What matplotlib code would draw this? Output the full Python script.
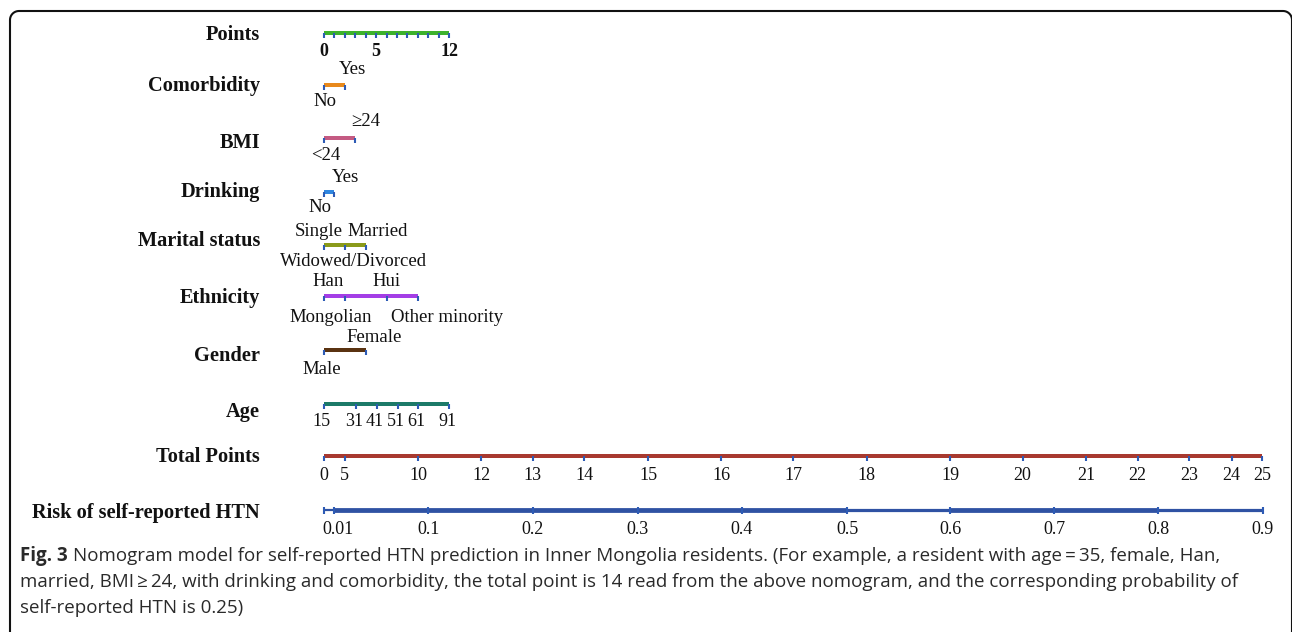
import numpy as np
import matplotlib.pyplot as plt

# ---- data (positions on the common points scale) ----
points_ticks = list(range(0, 13))
points_labels = {0: "0", 5: "5", 12: "12"}

comorb_levels = ["No", "Yes"]
comorb_pts = [0, 2]
bmi_levels = ["<24", "\u226524"]
bmi_pts = [0, 3]
drink_levels = ["No", "Yes"]
drink_pts = [0, 1]
marital_levels = ["Widowed/Divorced", "Single", "Married"]
marital_pts = [0, 2, 4]
ethnic_levels = ["Han", "Mongolian", "Hui", "Other minority"]
ethnic_pts = [0, 2, 6, 9]
gender_levels = ["Male", "Female"]
gender_pts = [0, 4]
age_values = [15, 31, 41, 51, 61, 91]
age_pts = [0, 3.1, 5.1, 7.1, 9.05, 12]

total_labels = [0, 5, 10, 12, 13, 14, 15, 16, 17, 18, 19, 20, 21, 22, 23, 24, 25]
total_pos = [0, 2.0, 9.05, 15.07, 20.03, 24.98, 31.12, 38.1, 45.04, 52.08,
             60.08, 67.05, 73.13, 78.09, 83.04, 87.11, 90.05]

risk_labels = ["0.01", "0.1", "0.2", "0.3", "0.4", "0.5", "0.6", "0.7", "0.8", "0.9"]
risk_pos = [0.99, 10.01, 20.03, 30.1, 40.09, 50.2, 60.08, 70.09, 80.07, 90.09]

caption_bold = "Fig. 3"
caption_1 = ("Nomogram model for self-reported HTN prediction in Inner Mongolia residents. "
             "(For example, a resident with age\u2009=\u200935, female, Han,")
caption_2 = ("married, BMI\u2009\u2265\u200924, with drinking and comorbidity, the total point is 14 "
             "read from the above nomogram, and the corresponding probability of")
caption_3 = "self-reported HTN is 0.25)"

# ---- figure ----
W, H = 1292, 632
px = 10.42  # pixels per point unit
x0 = 324
fig = plt.figure(figsize=(W / 100, H / 100), dpi=100)
ax = fig.add_axes([0, 0, 1, 1])
ax.set_xlim(-x0 / px, (W - x0) / px)
ax.set_ylim(H, 0)
ax.axis("off")

serif = "Liberation Serif"
tick_col = "#2d5bb5"
cat_size = 13.5
num_size = 13


def scale(y, pts, color, lw=4.0, tick_len=5):
    ax.plot([min(pts), max(pts)], [y, y], color=color, lw=lw * 0.72,
            solid_capstyle="butt", zorder=2)
    ax.vlines(pts, y, y + tick_len, color=tick_col, lw=1.5, zorder=3)


def put(x, y, s, size=cat_size, **kw):
    ax.text(x, y, s, ha="center", va="center", fontsize=size, family=serif,
            color="#111111", **kw)


# variable names, right edge at pixel 260
def vname(y, text):
    ax.text((260 - x0) / px, y, text, ha="right", va="center", fontsize=14.7,
            fontweight="bold", family=serif, color="#111111")


# Points
vname(35, "Points")
scale(33, points_ticks, "#3db22d")
for v, s in points_labels.items():
    put(v, 52, s, size=num_size, fontweight="bold")

# Comorbidity
vname(86, "Comorbidity")
scale(85, comorb_pts, "#e8891c")
put(comorb_pts[1] + 0.75, 70, comorb_levels[1])
put(comorb_pts[0] + 0.1, 101, comorb_levels[0])

# BMI
vname(143, "BMI")
scale(138, bmi_pts, "#c45a82")
put(bmi_pts[1] + 1.05, 122, bmi_levels[1])
put(bmi_pts[0] + 0.2, 155, bmi_levels[0])

# Drinking
vname(192, "Drinking")
scale(192, drink_pts, "#2f86e0")
put(drink_pts[1] + 1.05, 178, drink_levels[1])
put(drink_pts[0] - 0.4, 208, drink_levels[0])

# Marital status
vname(241, "Marital status")
scale(245, marital_pts, "#8a9a1a")
put(marital_pts[1] - 2.5, 231, marital_levels[1])
put(marital_pts[2] + 1.15, 231, marital_levels[2])
put(marital_pts[0] + 2.8, 261, marital_levels[0])

# Ethnicity
vname(298, "Ethnicity")
scale(296, ethnic_pts, "#a43ee6")
put(ethnic_pts[0] + 0.4, 282, ethnic_levels[0])
put(ethnic_pts[2] + 0.0, 282, ethnic_levels[2])
put(ethnic_pts[1] - 1.4, 317, ethnic_levels[1])
put(ethnic_pts[3] + 2.8, 317, ethnic_levels[3])

# Gender
vname(356, "Gender")
scale(350, gender_pts, "#5a3311")
put(gender_pts[1] + 0.85, 337, gender_levels[1])
put(gender_pts[0] - 0.2, 369, gender_levels[0])

# Age
vname(412, "Age")
scale(404, age_pts, "#1c7a68")
for p, a in zip(age_pts, age_values):
    put(p - 0.2, 421, str(a), size=num_size)

# Total Points
vname(457, "Total Points")
scale(456, total_pos, "#a8392f")
for p, t in zip(total_pos, total_labels):
    put(p, 476, str(t), size=num_size)

# Risk of self-reported HTN (segments drawn with alternating thickness)
vname(513, "Risk of self-reported HTN")
seg = [0] + risk_pos
widths = [2.2, 4.8, 4.8, 4.8, 4.8, 4.8, 3.2, 4.8, 4.8, 3.2]
for a, b, w in zip(seg[:-1], seg[1:], widths):
    ax.plot([a, b], [510, 510], color="#2f52a3", lw=w * 0.72,
            solid_capstyle="butt", zorder=2)
ax.vlines([0] + risk_pos, 507, 514, color=tick_col, lw=1.5, zorder=3)
for p, t in zip(risk_pos, risk_labels):
    put(p + (0.4 if t == "0.01" else 0), 530, t, size=num_size)

# ---- overlay: frame and caption in pixel units ----
ov = fig.add_axes([0, 0, 1, 1], facecolor="none")
ov.set_xlim(0, W)
ov.set_ylim(H, 0)
ov.axis("off")

r = 9
t = np.linspace(np.pi, 1.5 * np.pi, 20)
left_arc_x = 10 + r + r * np.cos(t)
left_arc_y = 11 + r + r * np.sin(t)
t2 = np.linspace(1.5 * np.pi, 2 * np.pi, 20)
right_arc_x = 1283 + r * np.cos(t2)
right_arc_y = 11 + r + r * np.sin(t2)
bx = np.concatenate([[10], left_arc_x, right_arc_x, [1283 + r]])
by = np.concatenate([[H + 5], left_arc_y, right_arc_y, [H + 5]])
ov.plot(bx, by, color="#111111", lw=1.5, clip_on=False)

cap_font = "Open Sans"
cap_col = "#2a2a2a"
bt = ov.text(20, 556, caption_bold, ha="left", va="center", fontsize=13.5,
             fontweight="bold", family=cap_font, color=cap_col)
ov.annotate(caption_1, xy=(1, 0.5), xycoords=bt, xytext=(4, 0),
            textcoords="offset points", ha="left", va="center", fontsize=13.5,
            family=[cap_font, "DejaVu Sans"], color=cap_col)
ov.text(20, 582, caption_2, ha="left", va="center", fontsize=13.5,
        family=[cap_font, "DejaVu Sans"], color=cap_col)
ov.text(20, 608, caption_3, ha="left", va="center", fontsize=13.5,
        family=cap_font, color=cap_col)

fig.savefig("out.png", dpi=100)
